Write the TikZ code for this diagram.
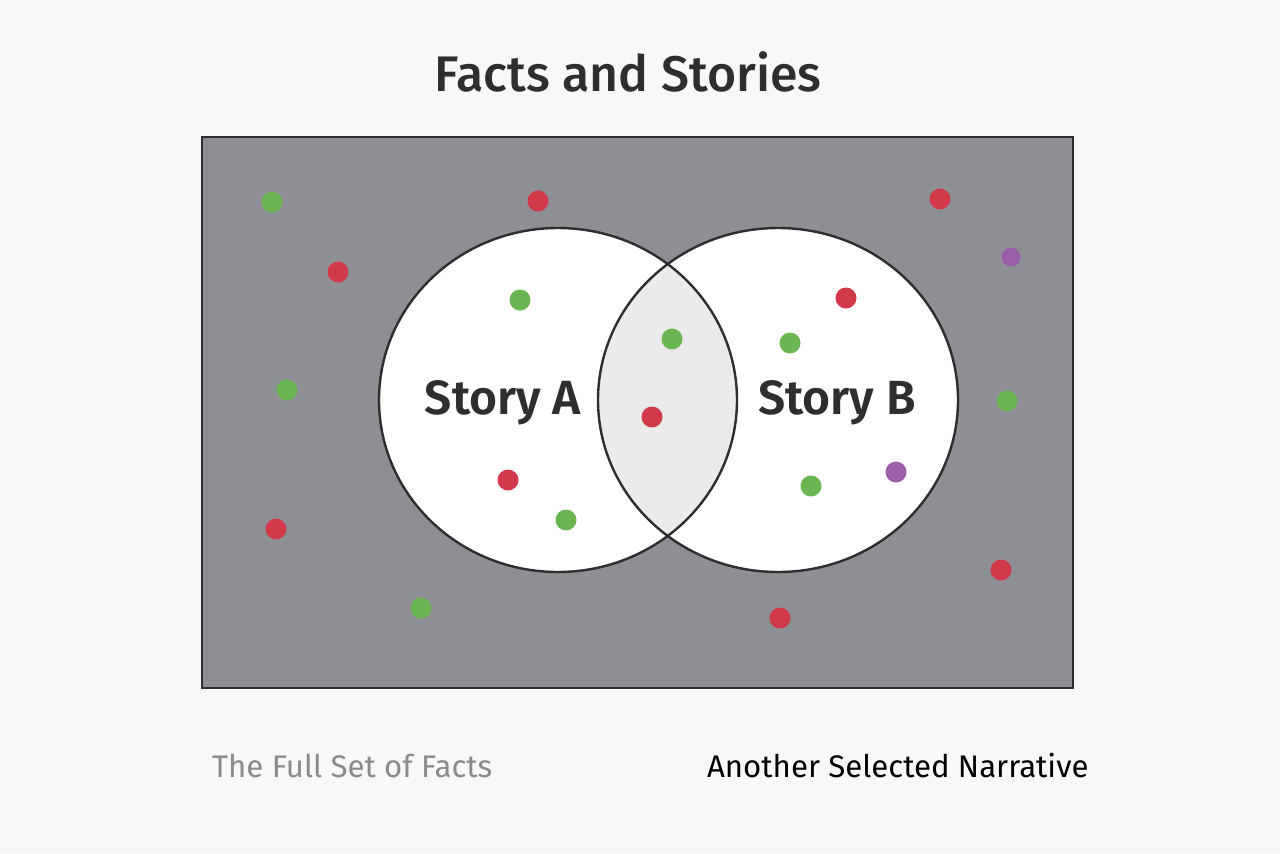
\documentclass[tikz,border=0pt]{standalone}
\usepackage{fontspec}
\setmainfont{Fira Sans}
\newfontfamily\medfont{Fira Sans Medium}
\newfontfamily\semifont{Fira Sans SemiBold}
\usetikzlibrary{shapes.geometric}
\definecolor{bg}{HTML}{F8F8F8}
\definecolor{field}{HTML}{8E8E95}
\definecolor{lens}{HTML}{EBEBEB}
\definecolor{ink}{HTML}{2E2E2E}
\definecolor{dgreen}{HTML}{6BB552}
\definecolor{dred}{HTML}{D23A4C}
\definecolor{dpurple}{HTML}{9A5FA8}
\definecolor{labelgray}{HTML}{8A8A8A}
\tikzset{
  fact/.style={circle, inner sep=0pt, minimum size=10.5pt, draw=none},
  gfact/.style={fact, fill=dgreen},
  rfact/.style={fact, fill=dred},
  pfact/.style={fact, fill=dpurple},
  storyset/.style={ellipse, draw=ink, line width=1.2pt, minimum width=179pt, minimum height=172pt, inner sep=0pt},
  storylabel/.style={font=\semifont\fontsize{24}{28}\selectfont, text=ink},
  caption/.style={font=\fontsize{15.6}{18}\selectfont, anchor=west}
}
\begin{document}
\begin{tikzpicture}[x=0.5pt, y=-0.5pt]
\useasboundingbox (0,0) rectangle (1280,853);
\fill[bg] (0,0) rectangle (1280,853);
\node[font=\medfont\fontsize{25}{30}\selectfont, text=ink] (title) at (628,72) {Facts and Stories};
\node[draw=ink, line width=0.9pt, fill=field, minimum width=435.5pt, minimum height=275.5pt, inner sep=0pt] (universe) at (637.5,412.5) {};
\fill[white] (558,400) ellipse [x radius=179, y radius=172];
\fill[white] (778,400) ellipse [x radius=180, y radius=172];
\begin{scope}
  \clip (558,400) ellipse [x radius=179, y radius=172];
  \fill[lens] (778,400) ellipse [x radius=180, y radius=172];
\end{scope}
\node[storyset, minimum width=179pt] (setA) at (558,400) {};
\node[storyset, minimum width=180pt] (setB) at (778,400) {};
\node[storylabel] (labA) at (503,403) {Story A};
\node[storylabel] (labB) at (837,403) {Story B};
% green facts
\node[gfact] (g1) at (272,202) {};
\node[gfact] (g2) at (287,390) {};
\node[gfact] (g3) at (421,608) {};
\node[gfact] (g4) at (520,300) {};
\node[gfact] (g5) at (566,520) {};
\node[gfact] (g6) at (672,339) {};
\node[gfact] (g7) at (790,343) {};
\node[gfact] (g8) at (811,486) {};
\node[gfact] (g9) at (1007,401) {};
% red facts
\node[rfact] (r1) at (538,201) {};
\node[rfact] (r2) at (338,272) {};
\node[rfact] (r3) at (276,529) {};
\node[rfact] (r4) at (508,480) {};
\node[rfact] (r5) at (652,417) {};
\node[rfact] (r6) at (846,298) {};
\node[rfact] (r7) at (940,199) {};
\node[rfact] (r8) at (1001,570) {};
\node[rfact] (r9) at (780,618) {};
% purple facts
\node[pfact, minimum size=9.5pt] (p1) at (1011,257) {};
\node[pfact] (p2) at (896,472) {};
\node[caption, text=labelgray] (capL) at (205,766) {The Full Set of Facts};
\node[caption, text=black] (capR) at (700,766) {Another Selected Narrative};
\end{tikzpicture}
\end{document}
